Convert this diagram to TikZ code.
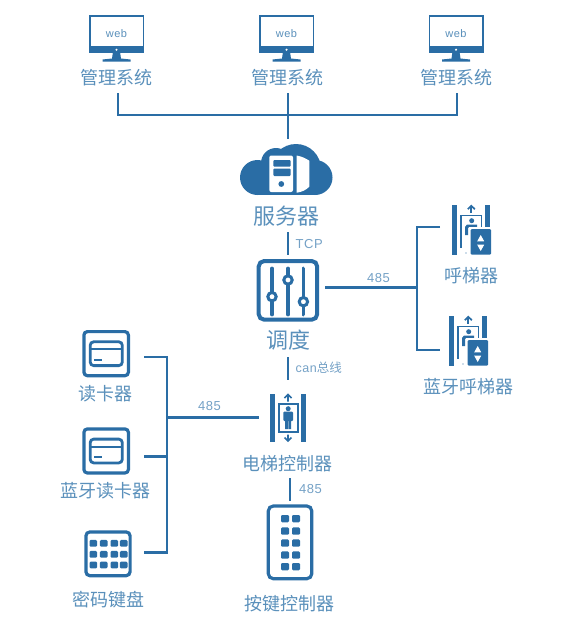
\documentclass[tikz,border=0pt]{standalone}
\usepackage{fontspec}
\setmainfont{Noto Sans CJK SC}
\newfontfamily\latinf[LetterSpace=4]{Liberation Sans}
\definecolor{ib}{HTML}{2A6DA5}
\definecolor{tb}{HTML}{5A90BB}
\definecolor{lb}{HTML}{74A1C6}
\tikzset{x=1pt,y=-1pt,
 link/.style={draw=ib,line width=2.7pt},
 captxt/.style={text=tb,inner sep=0pt,font=\fontsize{18}{18}\selectfont},
 bigcap/.style={text=tb,inner sep=0pt,font=\fontsize{22}{22}\selectfont},
 lab/.style={text=lb,inner sep=0pt,font=\latinf\fontsize{13}{13}\selectfont},
 monitor/.pic={
  \fill[ib] (-27.5,-19) rectangle (27.5,19);
  \fill[white] (-26,-17.2) rectangle (26,12);
  \fill[white] (0,15.7) circle (1.2);
  \fill[ib] (-3.7,19) -- (3.7,19) -- (4.5,24.5) -- (14,25.5) -- (14,27.6) -- (-14,27.6) -- (-14,25.5) -- (-4.5,24.5) -- cycle;
  \node[text=tb,inner sep=0pt,font=\latinf\fontsize{11}{11}\selectfont] at (0,0) {web};
 },
 card/.pic={
  \draw[ib,line width=3.2pt,rounded corners=3.5pt,fill=white] (1.6,1.6) rectangle (46.1,45.7);
  \draw[ib,line width=2.8pt,rounded corners=3.5pt] (7.9,11.8) rectangle (40,35.6);
  \draw[ib,line width=2.2pt] (7.9,19.3) -- (40,19.3);
  \draw[ib,line width=2.2pt] (12,29.7) -- (19.5,29.7);
 },
 callpanel/.pic={
  \draw[ib,line width=1.9pt] (9,43) -- (9,10.5) -- (29.5,10.5) -- (29.5,24);
  \fill[ib] (0,0) rectangle (5,49.5);
  \fill[ib] (33.3,0) rectangle (38,24);
  \draw[ib,line width=1.7pt] (19.3,7.5) -- (19.3,0.8);
  \draw[ib,line width=1.7pt] (15.8,4.2) -- (19.3,0.8) -- (22.8,4.2);
  \fill[ib] (19.7,15.7) circle (2.5);
  \fill[ib] (13,30) -- (13,22) -- (15,19.5) -- (25,19.5) -- (25,22.5) -- (16,22.5) -- (16,30) -- cycle;
  \fill[ib] (14,48) circle (.7);
  \fill[white] (16.7,22) rectangle (41,52);
  \fill[ib,rounded corners=1.2pt] (18.7,24) rectangle (39,49.7);
  \fill[white] (28.7,30) -- (32.2,36.3) -- (25.2,36.3) -- cycle;
  \fill[white] (25.2,39.7) -- (32.2,39.7) -- (28.7,46) -- cycle;
 },
 fader/.pic={
  \draw[ib,line width=3.8pt,line cap=round] (0,0) -- (0,46);
 }
}
\begin{document}
\begin{tikzpicture}
\useasboundingbox (0,0) rectangle (571,632);
% monitors
\path (116.5,34) pic {monitor};
\path (286.5,34) pic {monitor};
\path (456,34) pic {monitor};
\node[captxt] (t1) at (116.5,77.5) {管理系统};
\node[captxt] (t2) at (287,77.5) {管理系统};
\node[captxt] (t3) at (456,77.5) {管理系统};
% connector ends
\coordinate (a1) at (118,93);
\coordinate (a2) at (288,93);
\coordinate (a3) at (457,93);
\coordinate (ab) at (288,115);
\coordinate (srv) at (288,139);
\draw[link] (a1) |- (a3 |- ab) -- (a3);
\draw[link] (a2) -- (srv);
% cloud
\fill[ib] (257.5,177.5) circle (17.5) (276,163) circle (15) (296,169) circle (25) (315,177.5) circle (17.5);
\fill[ib] (257.5,175) rectangle (315,195);
\fill[white,rounded corners=2pt] (269.3,155.5) rectangle (293,192);
\fill[ib,rounded corners=1pt] (273.3,160) rectangle (290.7,166.7);
\fill[ib,rounded corners=1pt] (273.3,168.5) rectangle (290.7,176);
\fill[ib] (281.3,184) circle (2.9);
\fill[white] (296.7,155.5) .. controls (302,156.5) and (306,158.5) .. (309.3,160.7) -- (309.3,186.7) .. controls (306,190) and (302,192) .. (296.7,192.7) -- cycle;
\node[bigcap] (n1) at (286,216) {服务器};
% TCP
\coordinate (b1) at (288,232);
\coordinate (b2) at (288,255);
\draw[link] (b1) -- (b2);
\node[lab,anchor=west] (l1) at (295.5,244.5) {TCP};
% sliders
\draw[ib,line width=4pt,rounded corners=5.5pt] (258.7,261) rectangle (317.2,319.7);
\path (272,268.5) pic {fader};
\path (288,268.5) pic {fader};
\path (303.4,268.5) pic {fader};
\foreach \p in {(272,296.7),(288,280),(303.4,301.7)}
  \draw[ib,line width=3pt,fill=white] \p circle (4.2);
\node[bigcap] (n2) at (288,340) {调度};
% right branch
\coordinate (c1) at (325,287.7);
\coordinate (c2) at (417,287.7);
\coordinate (c3) at (440,227);
\coordinate (c4) at (440,350);
\draw[link] (c1) -- (c2);
\draw[link] (c3) -| (c2) |- (c4);
\node[lab] (l2) at (378.5,278) {485};
\path (452,205) pic {callpanel};
\path (449,316) pic {callpanel};
\node[captxt] (n3) at (471.5,275.5) {呼梯器};
\node[captxt] (n4) at (468,386.5) {蓝牙呼梯器};
% can
\coordinate (d1) at (288,357);
\coordinate (d2) at (288,380);
\draw[link] (d1) -- (d2);
\node[text=lb,inner sep=0pt,anchor=west,font=\fontsize{12.5}{12.5}\selectfont] (l3) at (295.5,368) {{\latinf can}总线};
% elevator
\fill[ib] (270,394) rectangle (274.8,441.5);
\fill[ib] (301.2,394) rectangle (306,441.5);
\draw[ib,line width=1.9pt] (278.6,403.9) rectangle (297.8,431.7);
\draw[ib,line width=1.6pt] (288,401.5) -- (288,394.5) (284.5,398) -- (288,394.5) -- (291.5,398);
\draw[ib,line width=1.6pt] (288,434.5) -- (288,441) (284.5,437.5) -- (288,441) -- (291.5,437.5);
\fill[ib] (288.2,408.7) circle (2.5);
\fill[ib,rounded corners=1pt] (283.3,411.5) rectangle (293,421);
\fill[ib] (285.2,419) rectangle (288,429) (288.5,419) rectangle (291.2,429);
% left branch
\coordinate (e1) at (144,357);
\coordinate (e2) at (144,456.7);
\coordinate (e3) at (144,552.7);
\coordinate (e4) at (167,417.7);
\coordinate (e5) at (259,417.7);
\draw[link] (e1) -| (e4) |- (e3);
\draw[link] (e2) -| (e4);
\draw[link] (e4) -- (e5);
\node[lab] (l4) at (209.5,406.5) {485};
\path (82.3,330) pic {card};
\path (82.3,427.3) pic {card};
\node[captxt] (n5) at (105.7,394) {读卡器};
\node[captxt] (n6) at (105.7,491) {蓝牙读卡器};
% keypad
\draw[ib,line width=3.2pt,rounded corners=4pt] (85.9,531.9) rectangle (130.1,575.7);
\foreach \x in {93.3,103.7,114.3,123.7}
  \foreach \y in {543.3,554.3,565}
    \fill[ib,rounded corners=1.2pt] (\x-3.8,\y-3.4) rectangle (\x+3.8,\y+3.4);
\node[captxt] (n7) at (108.7,599.3) {密码键盘};
\node[captxt] (n8) at (287,463.3) {电梯控制器};
% 485 bottom
\coordinate (f1) at (290,478.3);
\coordinate (f2) at (290,501);
\draw[link] (f1) -- (f2);
\node[lab] (l5) at (310.5,489) {485};
% button panel
\draw[ib,line width=3.2pt,rounded corners=5pt] (268.3,506) rectangle (311.8,578.7);
\foreach \x in {285,296}
  \foreach \y in {518.7,531,543,555,566.7}
    \fill[ib,rounded corners=1.2pt] (\x-4,\y-3.7) rectangle (\x+4,\y+3.7);
\node[captxt] (n9) at (289.3,603.3) {按键控制器};
\end{tikzpicture}
\end{document}
